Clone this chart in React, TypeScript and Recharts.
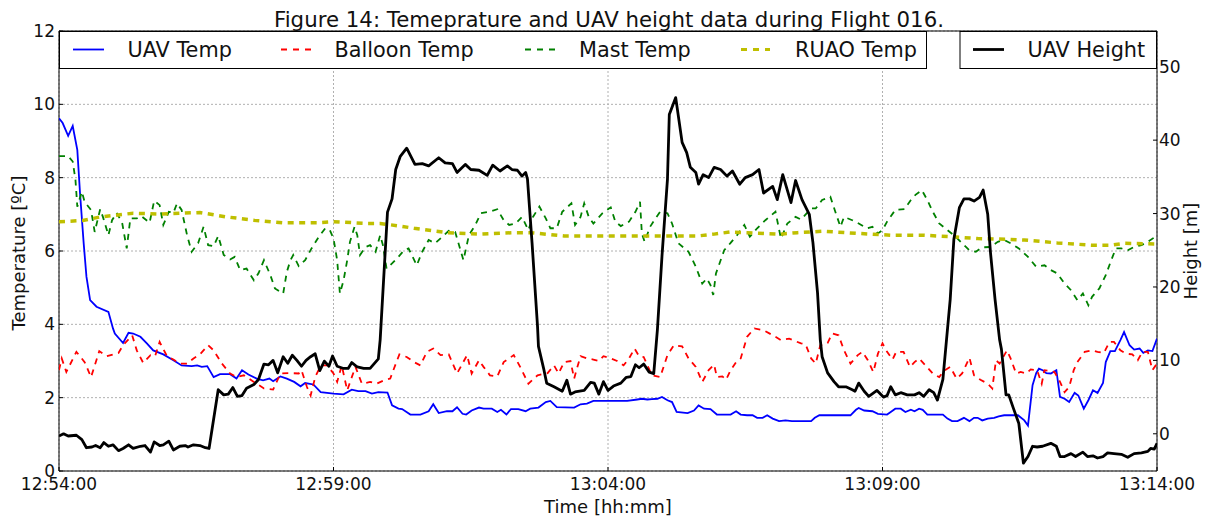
import React from 'react';
import { LineChart, Line, XAxis, YAxis, CartesianGrid, ReferenceArea, Legend } from 'recharts';

const FONT = '"DejaVu Sans", "Liberation Sans", sans-serif';

// time axis: seconds after 12:54:00
const timeTicks = [0, 300, 600, 900, 1200];
const tempTicks = [0, 2, 4, 6, 8, 10, 12];
const heightTicks = [0, 10, 20, 30, 40, 50];

const titleText = 'Figure 14: Temeprature and UAV height data during Flight 016.';
const seriesNames = ['UAV Temp', 'Balloon Temp', 'Mast Temp', 'RUAO Temp', 'UAV Height'];

// [seconds after 12:54:00, temperature ºC]
const uavTemp: [number, number][] = [
  [0, 9.62], [4, 9.49], [10, 9.14], [15, 9.41], [20, 8.76], [23, 7.57], [27, 6.2], [30, 5.3], [34, 4.66],
  [41, 4.48], [54, 4.34], [59, 3.89], [61, 3.75], [70, 3.49], [76, 3.77], [81, 3.75], [89, 3.66], [96, 3.48],
  [103, 3.29], [114, 3.18], [125, 3.02], [134, 2.88], [145, 2.86], [151, 2.88], [156, 2.84], [162, 2.86],
  [169, 2.56], [176, 2.64], [187, 2.64], [194, 2.52], [200, 2.75], [207, 2.63], [216, 2.52], [223, 2.47],
  [230, 2.52], [234, 2.45], [242, 2.58], [249, 2.52], [257, 2.43], [264, 2.31], [269, 2.4], [278, 2.36],
  [286, 2.15], [300, 2.11], [311, 2.09], [320, 2.22], [327, 2.18], [335, 2.18], [342, 2.11], [349, 2.15],
  [359, 2.14], [364, 1.79], [371, 1.7], [375, 1.69], [384, 1.54], [395, 1.54], [404, 1.63], [409, 1.82],
  [415, 1.58], [424, 1.63], [430, 1.63], [435, 1.74], [441, 1.56], [445, 1.54], [451, 1.65], [459, 1.73],
  [464, 1.7], [473, 1.7], [479, 1.61], [483, 1.67], [489, 1.54], [494, 1.69], [502, 1.69], [510, 1.63],
  [515, 1.7], [524, 1.73], [532, 1.88], [537, 1.91], [544, 1.74], [563, 1.73], [570, 1.82], [577, 1.84],
  [584, 1.91], [606, 1.91], [621, 1.91], [632, 1.95], [637, 1.97], [643, 1.95], [648, 1.96], [654, 1.97],
  [659, 2.02], [665, 1.93], [670, 1.88], [675, 1.61], [687, 1.58], [694, 1.65], [699, 1.79], [705, 1.7],
  [712, 1.69], [719, 1.54], [734, 1.54], [740, 1.63], [745, 1.54], [752, 1.52], [758, 1.52], [763, 1.45],
  [769, 1.45], [774, 1.52], [780, 1.43], [787, 1.36], [794, 1.38], [801, 1.36], [811, 1.36], [822, 1.36],
  [826, 1.45], [831, 1.52], [865, 1.52], [871, 1.67], [874, 1.72], [880, 1.65], [889, 1.63], [895, 1.56],
  [905, 1.54], [909, 1.61], [914, 1.7], [920, 1.7], [925, 1.61], [931, 1.67], [935, 1.63], [940, 1.7],
  [944, 1.67], [949, 1.54], [966, 1.54], [971, 1.43], [976, 1.36], [982, 1.36], [989, 1.45], [995, 1.36],
  [1000, 1.45], [1004, 1.45], [1009, 1.38], [1015, 1.43], [1022, 1.45], [1027, 1.49], [1033, 1.52],
  [1048, 1.52], [1055, 1.38], [1059, 1.24], [1064, 2.34], [1068, 2.67], [1071, 2.79], [1075, 2.75],
  [1079, 2.67], [1084, 2.66], [1090, 2.75], [1094, 2.02], [1099, 1.97], [1104, 1.88], [1110, 2.13],
  [1114, 2.06], [1120, 1.7], [1125, 1.93], [1130, 2.2], [1135, 2.13], [1141, 2.4], [1144, 2.97],
  [1149, 3.27], [1154, 3.27], [1160, 3.57], [1164, 3.79], [1170, 3.43], [1175, 3.31], [1181, 3.34],
  [1185, 3.22], [1190, 3.29], [1195, 3.27], [1200, 3.61],
];

const balloonTemp: [number, number][] = [
  [0, 2.75], [3, 3.07], [8, 2.7], [19, 3.25], [28, 2.97], [35, 2.56], [44, 3.27], [52, 3.13], [65, 3.22],
  [70, 3.43], [80, 3.7], [85, 3.29], [92, 2.95], [100, 3.16], [105, 3.13], [110, 3.52], [118, 3.13],
  [125, 3.04], [132, 2.93], [140, 2.93], [147, 3.07], [154, 3.18], [163, 3.43], [169, 3.29], [178, 2.93],
  [187, 2.66], [194, 2.56], [202, 2.61], [213, 2.43], [224, 2.25], [234, 2.22], [242, 2.66], [253, 2.67],
  [262, 2.66], [265, 2.75], [271, 2.29], [275, 2.06], [280, 2.56], [286, 2.88], [293, 2.88], [300, 2.66],
  [304, 2.43], [309, 2.88], [315, 2.2], [320, 2.56], [324, 2.84], [331, 2.38], [340, 2.43], [347, 2.38],
  [355, 2.47], [362, 2.52], [366, 2.79], [372, 3.18], [380, 3.11], [388, 2.97], [395, 2.88], [402, 3.25],
  [409, 3.34], [417, 3.16], [426, 3.18], [435, 2.66], [441, 2.93], [446, 3.16], [451, 2.66], [459, 3.02],
  [464, 2.84], [471, 2.61], [479, 2.58], [486, 2.97], [497, 3.16], [504, 2.84], [513, 2.38], [523, 2.61],
  [534, 2.67], [541, 2.88], [546, 2.66], [552, 2.97], [559, 3.0], [563, 2.52], [566, 2.79], [570, 3.13],
  [577, 3.07], [584, 3.04], [590, 3.0], [595, 3.13], [603, 3.07], [610, 3.0], [617, 2.88], [623, 3.07],
  [629, 3.34], [634, 3.13], [639, 3.11], [648, 2.61], [657, 2.56], [665, 3.16], [672, 3.43], [681, 3.4],
  [688, 3.07], [696, 2.84], [703, 2.43], [710, 2.75], [716, 2.9], [719, 2.56], [725, 2.58], [729, 2.49],
  [734, 2.75], [740, 2.97], [745, 3.07], [752, 3.66], [760, 3.89], [770, 3.84], [783, 3.66], [789, 3.57],
  [798, 3.61], [811, 3.48], [816, 3.45], [822, 3.07], [827, 2.93], [832, 3.43], [840, 3.49], [845, 3.75],
  [852, 3.7], [858, 3.29], [865, 2.93], [873, 3.16], [878, 3.25], [884, 3.02], [890, 2.7], [895, 3.2],
  [900, 3.48], [905, 3.25], [911, 3.04], [915, 3.25], [923, 3.25], [930, 2.84], [935, 2.97], [940, 3.07],
  [947, 2.88], [955, 2.66], [962, 2.56], [967, 2.73], [974, 2.84], [981, 2.52], [987, 2.66], [995, 3.09],
  [1000, 2.61], [1007, 2.49], [1015, 2.38], [1020, 2.25], [1024, 3.02], [1028, 2.93], [1036, 3.29],
  [1040, 3.07], [1046, 2.66], [1051, 2.7], [1057, 2.66], [1062, 2.77], [1069, 2.75], [1074, 2.38],
  [1077, 2.75], [1082, 2.73], [1088, 2.7], [1094, 2.43], [1099, 2.15], [1104, 2.29], [1109, 2.75],
  [1113, 2.97], [1121, 3.25], [1129, 3.29], [1135, 3.25], [1142, 3.22], [1148, 3.52], [1153, 3.52],
  [1160, 3.29], [1166, 3.2], [1173, 3.18], [1179, 3.02], [1184, 3.25], [1190, 3.25], [1195, 2.75], [1200, 2.93],
];

const mastTemp: [number, number][] = [
  [0, 8.59], [10, 8.59], [15, 8.44], [18, 7.94], [20, 7.21], [25, 7.62], [28, 7.34], [35, 7.12], [39, 6.52],
  [45, 7.14], [48, 6.93], [54, 6.43], [58, 6.84], [63, 7.04], [69, 6.77], [74, 6.07], [78, 6.89], [85, 6.89],
  [90, 6.95], [99, 6.77], [104, 7.37], [110, 7.25], [114, 6.71], [120, 7.07], [125, 7.04], [129, 7.3],
  [134, 7.12], [140, 6.43], [145, 5.98], [152, 6.21], [158, 6.66], [163, 6.16], [169, 6.13], [174, 6.41],
  [180, 5.89], [187, 5.77], [192, 5.84], [198, 5.48], [205, 5.52], [213, 5.2], [218, 5.39], [224, 5.75],
  [231, 5.34], [236, 4.98], [245, 4.84], [249, 5.43], [253, 5.75], [256, 5.89], [262, 5.59], [269, 5.75],
  [276, 6.07], [284, 6.39], [291, 6.62], [296, 6.57], [300, 6.34], [304, 5.75], [307, 4.84], [311, 5.2],
  [315, 5.75], [318, 6.25], [323, 6.66], [326, 6.43], [329, 5.89], [335, 6.11], [340, 6.16], [346, 5.98],
  [351, 6.43], [354, 6.16], [358, 5.52], [364, 5.66], [371, 5.84], [377, 6.02], [382, 6.07], [391, 5.61],
  [397, 5.98], [404, 6.3], [411, 6.21], [419, 6.39], [426, 6.55], [433, 6.52], [442, 5.75], [448, 6.43],
  [455, 6.71], [461, 7.03], [470, 7.07], [479, 7.14], [486, 6.84], [492, 6.71], [499, 6.75], [506, 6.93],
  [513, 6.57], [518, 6.93], [525, 7.21], [532, 6.89], [537, 6.62], [544, 6.62], [550, 7.07], [560, 7.3],
  [564, 6.71], [570, 6.93], [574, 7.3], [579, 6.93], [584, 6.75], [594, 7.03], [603, 7.19], [608, 6.8],
  [614, 6.68], [623, 6.8], [630, 7.07], [635, 7.34], [637, 6.48], [640, 6.25], [646, 6.66], [652, 6.89],
  [657, 7.07], [665, 7.03], [670, 6.75], [677, 6.21], [688, 5.98], [696, 5.57], [703, 5.11], [708, 5.25],
  [712, 5.07], [715, 4.8], [718, 5.39], [727, 6.02], [734, 6.22], [741, 6.43], [749, 6.71], [755, 6.39],
  [763, 6.62], [772, 6.84], [783, 7.07], [789, 6.34], [796, 6.75], [805, 6.93], [811, 6.86], [822, 7.16],
  [827, 7.16], [834, 7.39], [843, 7.48], [849, 7.03], [854, 6.66], [858, 6.93], [867, 6.84], [874, 6.75],
  [883, 6.62], [889, 6.66], [895, 6.48], [900, 6.57], [905, 6.8], [914, 7.12], [924, 7.14], [931, 7.39],
  [936, 7.53], [943, 7.66], [949, 7.39], [955, 7.07], [962, 6.75], [971, 6.57], [980, 6.39], [987, 6.21],
  [995, 6.02], [1002, 5.98], [1009, 6.1], [1018, 6.11], [1026, 6.25], [1033, 6.3], [1040, 6.21],
  [1049, 6.07], [1059, 5.84], [1068, 5.57], [1077, 5.61], [1084, 5.48], [1091, 5.39], [1099, 5.11],
  [1106, 4.93], [1113, 4.66], [1119, 4.84], [1125, 4.52], [1129, 4.75], [1137, 4.98], [1144, 5.34],
  [1150, 5.75], [1155, 6.07], [1161, 6.07], [1168, 6.02], [1175, 6.11], [1183, 6.16], [1190, 6.25],
  [1197, 6.37], [1200, 6.41],
];

const ruaoTemp: [number, number][] = [
  [0, 6.8], [26, 6.83], [45, 6.93], [81, 7.03], [110, 7.01], [154, 7.05], [183, 6.93], [213, 6.84],
  [245, 6.77], [282, 6.77], [300, 6.8], [337, 6.75], [351, 6.75], [373, 6.68], [388, 6.62], [424, 6.5],
  [461, 6.46], [497, 6.5], [515, 6.5], [552, 6.41], [588, 6.41], [625, 6.41], [661, 6.41], [698, 6.41],
  [716, 6.46], [734, 6.52], [752, 6.5], [789, 6.46], [807, 6.5], [836, 6.54], [873, 6.48], [909, 6.43],
  [945, 6.43], [975, 6.39], [1004, 6.34], [1037, 6.32], [1055, 6.3], [1091, 6.22], [1128, 6.16],
  [1150, 6.16], [1164, 6.21], [1200, 6.19],
];

// [seconds after 12:54:00, height m]
const uavHeight: [number, number][] = [
  [0, -0.3], [5, 0], [10, -0.3], [19, -0.2], [25, -0.8], [30, -1.9], [36, -1.8], [40, -1.6], [45, -1.9],
  [49, -1.2], [54, -1.7], [59, -1.5], [65, -2.3], [70, -2.0], [76, -1.5], [81, -2.0], [89, -1.7], [94, -1.6],
  [100, -2.5], [104, -1.1], [110, -1.6], [114, -1.5], [120, -1.0], [125, -2.2], [132, -1.7], [138, -1.6],
  [141, -1.8], [147, -1.5], [154, -1.6], [160, -1.9], [164, -2.0], [174, 6.0], [180, 5.3], [185, 5.4],
  [190, 6.3], [195, 5.1], [200, 5.2], [205, 6.2], [213, 6.7], [218, 7.4], [224, 9.5], [229, 9.4], [234, 10.0],
  [239, 8.3], [245, 10.5], [250, 9.6], [255, 10.7], [260, 10.0], [265, 9.2], [270, 10.0], [275, 10.5],
  [280, 10.9], [285, 8.6], [290, 9.9], [295, 9.2], [299, 10.6], [304, 9.2], [311, 8.9], [316, 8.9],
  [320, 9.7], [326, 9.1], [333, 8.9], [340, 8.9], [349, 10.2], [351, 12.8], [359, 30.2], [364, 32],
  [368, 36], [373, 37.8], [380, 38.9], [389, 36.7], [397, 36.8], [404, 36.5], [415, 37.6], [422, 36.9],
  [430, 36.8], [435, 35.6], [444, 36.7], [450, 36.0], [459, 35.9], [468, 35.2], [474, 36.6], [482, 35.8],
  [490, 36.5], [495, 36.0], [501, 35.9], [506, 35.1], [510, 35.6], [512, 34.7], [517, 26], [523, 14.6],
  [524, 11.9], [530, 8.7], [533, 6.9], [541, 6.4], [550, 5.8], [555, 7.3], [559, 5.4], [564, 5.7],
  [574, 5.9], [581, 7.0], [585, 6.9], [590, 5.4], [595, 7.1], [600, 5.9], [606, 6.5], [614, 6.9],
  [620, 7.7], [625, 7.8], [630, 9.4], [634, 9.0], [639, 9.5], [645, 8.4], [650, 8.2], [654, 14.2],
  [659, 24.2], [665, 34.7], [667, 43.5], [674, 45.8], [681, 39.7], [686, 38.3], [690, 36.3], [696, 35.6],
  [699, 34.0], [704, 35.3], [710, 34.9], [716, 36.3], [723, 36.0], [730, 35.1], [736, 35.8], [744, 34.0],
  [750, 34.9], [758, 35.3], [765, 36.0], [770, 32.8], [780, 33.7], [785, 31.9], [791, 35.3], [800, 31.5],
  [805, 34.5], [812, 31.9], [820, 29.9], [824, 26.0], [829, 19.2], [832, 12.8], [834, 10.5], [840, 8.3],
  [847, 7.1], [852, 6.4], [860, 6.4], [867, 6.0], [870, 5.8], [874, 6.9], [880, 5.8], [885, 5.1],
  [894, 5.9], [901, 5.0], [905, 5.2], [909, 6.4], [914, 5.3], [920, 5.6], [927, 5.3], [935, 5.3],
  [940, 5.6], [945, 5.1], [951, 6.0], [956, 5.6], [960, 4.6], [966, 7.4], [969, 11.5], [974, 18.3],
  [978, 26.5], [984, 30.8], [989, 32.0], [995, 32.0], [1000, 31.7], [1006, 32.2], [1010, 33.2],
  [1015, 29.9], [1018, 24.7], [1023, 18.3], [1028, 12.8], [1030, 11.5], [1035, 5.3], [1038, 5.3],
  [1043, 3.5], [1049, 1.4], [1054, -4.0], [1059, -3.1], [1064, -1.7], [1069, -1.8], [1075, -1.7],
  [1084, -1.3], [1090, -1.7], [1094, -3.1], [1099, -3.1], [1106, -2.7], [1111, -3.1], [1119, -2.5],
  [1124, -3.1], [1130, -3.0], [1135, -3.3], [1141, -3.1], [1146, -2.6], [1153, -2.7], [1161, -2.8],
  [1168, -3.2], [1175, -2.7], [1183, -2.6], [1190, -2.4], [1193, -2.0], [1197, -2.1], [1200, -1.3],
];

const toRows = (pairs: [number, number][]) => pairs.map(([t, v]) => ({ t, v }));

const fmtTime = (s: number) => {
  const total = 12 * 3600 + 54 * 60 + s;
  const h = Math.floor(total / 3600);
  const m = Math.floor((total % 3600) / 60);
  const sec = Math.round(total % 60);
  const p = (n: number) => String(n).padStart(2, '0');
  return `${p(h)}:${p(m)}:${p(sec)}`;
};

const STYLES = [
  { color: '#0000ff', dash: undefined as string | undefined, w: 1.8 },
  { color: '#ff0000', dash: '6 5.5', w: 1.8 },
  { color: '#008000', dash: '6 5.5', w: 1.8 },
  { color: '#bfbf00', dash: '6 5.5', w: 3.5 },
  { color: '#000000', dash: undefined as string | undefined, w: 2.8 },
];

const textFill = '#111';

const Overlay = () => {
  const legendY = 56.8;
  const lineY = 49.5;
  const items = [
    { i: 0, x1: 73, x2: 104, tx: 127.5 },
    { i: 1, x1: 281, x2: 311, tx: 334.5 },
    { i: 2, x1: 525, x2: 555, tx: 579 },
    { i: 3, x1: 741, x2: 770, tx: 795 },
  ];
  return (
    <svg width={1205} height={70} style={{ display: 'block', fontFamily: FONT }}>
      <text x={609} y={26.7} textAnchor="middle" fontSize={21.3} fill={textFill}>{titleText}</text>
      <rect x={59.5} y={31.5} width={867} height={37} fill="#fff" stroke="#000" strokeWidth={1} />
      {items.map((it) => (
        <g key={it.i}>
          <line x1={it.x1} x2={it.x2} y1={lineY} y2={lineY} stroke={STYLES[it.i].color}
            strokeWidth={it.i === 3 ? 3 : 1.8} strokeDasharray={STYLES[it.i].dash ? '6 6' : undefined} />
          <text x={it.tx} y={legendY} fontSize={20.8} fill={textFill}>{seriesNames[it.i]}</text>
        </g>
      ))}
      <rect x={960} y={31.5} width={196.5} height={37} fill="#fff" stroke="#000" strokeWidth={1} />
      <line x1={973} x2={1004} y1={lineY} y2={lineY} stroke="#000" strokeWidth={2.8} />
      <text x={1027.5} y={legendY} fontSize={20.8} fill={textFill}>{seriesNames[4]}</text>
    </svg>
  );
};

const LeftLabel = (p: any) => {
  const vb = p.viewBox;
  const x = vb.x + 25;
  const y = vb.y + vb.height / 2 + 2;
  return (
    <text x={x} y={y} transform={`rotate(-90 ${x} ${y})`} textAnchor="middle" fontSize={18}
      fontFamily={FONT} fill={textFill}>Temperature [ºC]</text>
  );
};

const RightLabel = (p: any) => {
  const vb = p.viewBox;
  const x = vb.x + 40;
  const y = vb.y + vb.height / 2;
  return (
    <text x={x} y={y} transform={`rotate(-90 ${x} ${y})`} textAnchor="middle" fontSize={18}
      fontFamily={FONT} fill={textFill}>Height [m]</text>
  );
};

const BottomLabel = (p: any) => {
  const vb = p.viewBox;
  return (
    <text x={vb.x + vb.width / 2} y={vb.y + 41.5} textAnchor="middle" fontSize={18}
      fontFamily={FONT} fill={textFill}>Time [hh:mm]</text>
  );
};

const tickStyle = { fill: textFill, fontSize: 17, fontFamily: FONT };

export default function App() {
  const series = [uavTemp, balloonTemp, mastTemp, ruaoTemp];
  return (
    <div style={{ position: 'absolute', left: 0, top: 0, width: 1205, height: 517, background: '#fff', fontFamily: FONT }}>
      <LineChart width={1205} height={517} margin={{ top: 31, right: 0, bottom: 0, left: 0 }}>
        <CartesianGrid xAxisId="x" yAxisId="left" stroke="#b0b0b0" strokeDasharray="2 2" />
        <XAxis xAxisId="x" type="number" dataKey="t" domain={[0, 1200]} ticks={timeTicks}
          tickFormatter={fmtTime} height={46} tickSize={-4} tickMargin={11} axisLine={false}
          tick={tickStyle} tickLine={{ stroke: '#000' }} allowDataOverflow interval={0}
          label={{ content: BottomLabel }} />
        <YAxis yAxisId="left" type="number" domain={[0, 12]} ticks={tempTicks} width={59}
          tickSize={-4} tickMargin={8} axisLine={false} tick={tickStyle} tickLine={{ stroke: '#000' }}
          allowDataOverflow interval={0} label={{ content: LeftLabel }} />
        <YAxis yAxisId="right" orientation="right" type="number" domain={[-5.07, 54.87]} ticks={heightTicks}
          width={48} tickSize={-4} tickMargin={6} axisLine={false} tick={tickStyle}
          tickLine={{ stroke: '#000' }} allowDataOverflow interval={0} label={{ content: RightLabel }} />
        {series.map((s, i) => (
          <Line key={seriesNames[i]} name={seriesNames[i]} xAxisId="x" yAxisId="left" data={toRows(s)}
            dataKey="v" type="linear" stroke={STYLES[i].color} strokeWidth={STYLES[i].w}
            strokeDasharray={STYLES[i].dash} dot={false} activeDot={false} isAnimationActive={false} />
        ))}
        <Line name={seriesNames[4]} xAxisId="x" yAxisId="right" data={toRows(uavHeight)} dataKey="v"
          type="linear" stroke="#000" strokeWidth={STYLES[4].w} dot={false} activeDot={false}
          isAnimationActive={false} strokeLinejoin="round" />
        <ReferenceArea xAxisId="x" yAxisId="left" x1={0} x2={1200} y1={0} y2={12} fill="none"
          fillOpacity={0} stroke="#000" strokeWidth={1} ifOverflow="visible" />
        <Legend layout="vertical" align="center" verticalAlign="middle" content={() => <Overlay />}
          wrapperStyle={{ left: 0, top: 0, width: 1205, height: 70, pointerEvents: 'none' }} />
      </LineChart>
    </div>
  );
}
